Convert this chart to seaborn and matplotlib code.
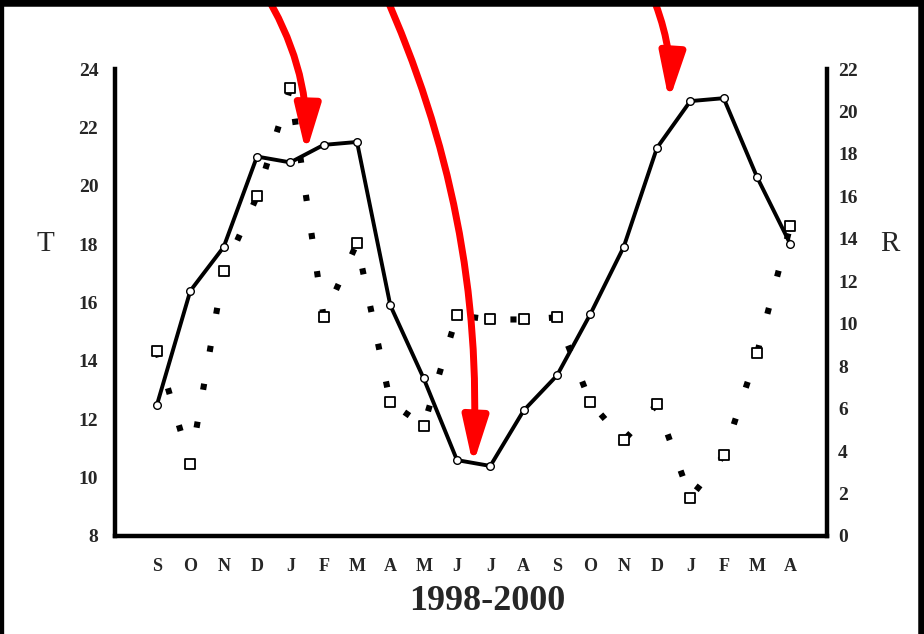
import numpy as np
import pandas as pd
import matplotlib
matplotlib.use("Agg")
import matplotlib.pyplot as plt
from matplotlib.patches import FancyArrowPatch
from matplotlib.lines import Line2D
import seaborn as sns

# Monthly series, September 1998 to April 2000
months = ["S", "O", "N", "D", "J", "F", "M", "A", "M", "J",
          "J", "A", "S", "O", "N", "D", "J", "F", "M", "A"]
temperature = [12.5, 16.4, 17.9, 21.0, 20.8, 21.4, 21.5, 15.9, 13.4, 10.6,
               10.4, 12.3, 13.5, 15.6, 17.9, 21.3, 22.9, 23.0, 20.3, 18.0]
r_values = [8.7, 3.4, 12.5, 16.0, 21.1, 10.3, 13.8, 6.3, 5.2, 10.4,
            10.2, 10.2, 10.3, 6.3, 4.5, 6.2, 1.8, 3.8, 8.6, 14.6]
t_ticks = [8, 10, 12, 14, 16, 18, 20, 22, 24]
r_ticks = [0, 2, 4, 6, 8, 10, 12, 14, 16, 18, 20, 22]

df = pd.DataFrame({"pos": np.arange(len(months)), "month": months,
                   "T": temperature, "R": r_values})

sns.set_theme(style="white")
plt.rcParams["font.family"] = ["Liberation Serif", "DejaVu Serif"]

W, H = 924, 634
fig = plt.figure(figsize=(W / 100, H / 100), dpi=100)
fig.patch.set_facecolor("white")

left, right, bottom, top = 115, 827, 536, 69
ax = fig.add_axes([left / W, 1 - bottom / H, (right - left) / W, (bottom - top) / H])
ax.set_facecolor("none")
ax2 = ax.twinx()

# R: dotted line with open squares (right axis)
sns.lineplot(data=df, x="pos", y="R", ax=ax2, color="black", lw=4.4,
             linestyle=(0, (1, 5.3)), zorder=2)
sns.scatterplot(data=df, x="pos", y="R", ax=ax2, marker="s", s=60,
                facecolor="white", edgecolor="black", linewidth=1.3, zorder=3)

# T: solid line with open circles (left axis)
sns.lineplot(data=df, x="pos", y="T", ax=ax, color="black", lw=2.8,
             marker="o", markersize=5.5, markerfacecolor="white",
             markeredgecolor="black", markeredgewidth=1.0, zorder=4)
ax.set_zorder(ax2.get_zorder() + 1)

ax.set_xlim(-1.26, 20.1)
ax.set_ylim(8, 24)
ax2.set_ylim(0, 22)

ax.set_xticks(df["pos"])
ax.set_xticklabels(months, fontsize=13, fontweight="bold")
ax.set_xticks(df["pos"][1::2], minor=True)
ax.tick_params(axis="x", which="major", length=0, pad=16)
ax.tick_params(axis="x", which="minor", direction="in", length=5, width=2.5,
               color="black", bottom=True)
ax.set_yticks(t_ticks)
ax.tick_params(axis="y", length=0, pad=12, labelsize=14)
ax2.set_yticks(r_ticks)
ax2.tick_params(axis="y", length=0, pad=8, labelsize=14)
for lab in ax.get_yticklabels() + ax2.get_yticklabels():
    lab.set_fontweight("bold")

ax.set_xlabel("")
ax.set_ylabel("")
ax2.set_ylabel("")
ax.grid(False)
ax2.grid(False)

for a in (ax, ax2):
    a.spines["top"].set_visible(False)
    for s in ("left", "right", "bottom"):
        a.spines[s].set_color("black")
        a.spines[s].set_linewidth(3.2)
ax.spines["right"].set_visible(False)
ax2.spines["left"].set_visible(False)
ax2.spines["bottom"].set_visible(False)

fig.text(487 / W, 1 - 601 / H, "1998-2000", ha="center", va="center",
         fontsize=26, fontweight="bold")
fig.text(45 / W, 1 - 244 / H, "T", ha="center", va="center", fontsize=21)
fig.text(890 / W, 1 - 244 / H, "R", ha="center", va="center", fontsize=21)

# Red curved arrows pointing at features of the curves
def red_arrow(x0, y0, x1, y1, rad):
    arr = FancyArrowPatch((x0 / W, 1 - y0 / H), (x1 / W, 1 - y1 / H),
                          transform=fig.transFigure,
                          connectionstyle=f"arc3,rad={rad}",
                          arrowstyle="-|>,head_length=1.4,head_width=0.38",
                          mutation_scale=20, lw=5, color="#ff0000",
                          shrinkA=0, shrinkB=0, zorder=10)
    fig.patches.append(arr)

red_arrow(263, -10, 306, 153, -0.15)
red_arrow(383, -10, 473, 465, -0.12)
red_arrow(650, -10, 669, 101, -0.12)

# Dark frame around the figure
for xs, ys, w in (([0, 1], [1, 1], 9), ([0, 0], [0, 1], 6), ([1, 1], [0, 1], 9)):
    fig.lines.append(Line2D(xs, ys, transform=fig.transFigure,
                            color="black", lw=w, zorder=20))

fig.savefig("out.png", dpi=100)
